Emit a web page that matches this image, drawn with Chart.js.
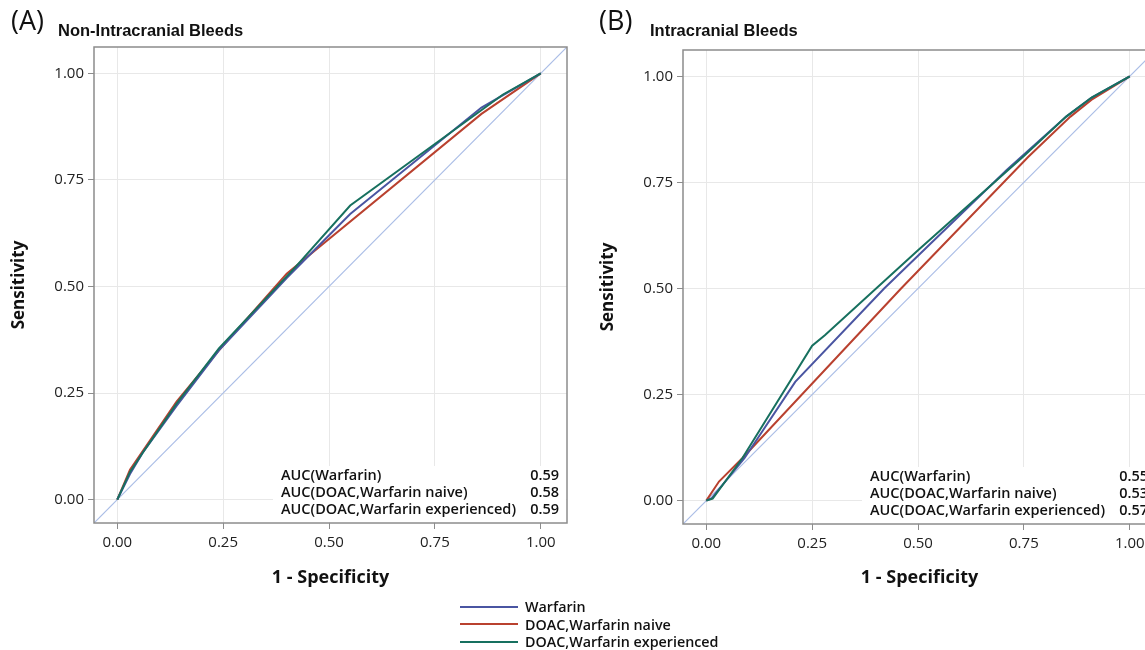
<!DOCTYPE html>
<html>
<head>
  <title>ROC curves - bleeds</title>
  <script src="https://cdn.jsdelivr.net/npm/chart.js"></script>
  <style>
    body { margin: 0; width: 1145px; height: 650px; overflow: hidden; background: #fff; position: relative; font-family: "Open Sans", sans-serif; }
    canvas { position: absolute; top: 0; }
    #rocA { left: 0; }
    #rocB { left: 589px; }
    .tag { position: absolute; top: 1px; font-size: 27px; color: #111; }
    .head { position: absolute; top: 21px; font-family: "Liberation Sans", Arial, sans-serif; font-weight: bold; font-size: 16.5px; color: #111; }
    #legend { position: absolute; left: 460px; top: 598px; font-size: 14.3px; font-weight: 600; color: #111; }
    .row { height: 17.5px; display: flex; align-items: center; }
    .swatch { width: 58px; height: 2px; margin-right: 7px; }
  </style>
</head>
<body>
  <canvas id="rocA" width="585" height="600"></canvas>
  <canvas id="rocB" width="585" height="600"></canvas>
  <div class="tag" style="left:11px">(A)</div>
  <div class="head" style="left:58px">Non-Intracranial Bleeds</div>
  <div class="tag" style="left:599px">(B)</div>
  <div class="head" style="left:650px">Intracranial Bleeds</div>
  <div id="legend"></div>
  <script>
    const TICKS = [0, 0.25, 0.5, 0.75, 1];
    const DIAG = [-0.06, 1.07];
    const SERIES = ['Warfarin', 'DOAC,Warfarin naive', 'DOAC,Warfarin experienced'];
    const COLORS = ['#4a55a2', '#b9412f', '#17705f'];
    const AUC_LABELS = ['AUC(Warfarin)', 'AUC(DOAC,Warfarin naive)', 'AUC(DOAC,Warfarin experienced)'];

    // (A) Non-Intracranial Bleeds
    const A_WARF_X = [0, 0.03, 0.06, 0.14, 0.24, 0.40, 0.55, 0.86, 1];
    const A_WARF_Y = [0, 0.06, 0.11, 0.22, 0.35, 0.52, 0.67, 0.92, 1];
    const A_NAIVE_X = [0, 0.03, 0.14, 0.24, 0.40, 0.86, 1];
    const A_NAIVE_Y = [0, 0.07, 0.23, 0.35, 0.53, 0.905, 1];
    const A_EXP_X = [0, 0.03, 0.06, 0.14, 0.24, 0.42, 0.55, 0.91, 1];
    const A_EXP_Y = [0, 0.065, 0.11, 0.225, 0.355, 0.545, 0.69, 0.95, 1];
    const A_AUC = [0.59, 0.58, 0.59];

    // (B) Intracranial Bleeds
    const B_WARF_X = [0, 0.012, 0.09, 0.21, 0.42, 0.71, 0.85, 0.91, 1];
    const B_WARF_Y = [0, 0.005, 0.10, 0.28, 0.50, 0.78, 0.905, 0.95, 1];
    const B_NAIVE_X = [0, 0.03, 0.085, 0.46, 0.76, 0.86, 0.91, 1];
    const B_NAIVE_Y = [0, 0.045, 0.10, 0.50, 0.81, 0.905, 0.945, 1];
    const B_EXP_X = [0, 0.015, 0.085, 0.25, 0.28, 0.50, 0.75, 0.85, 0.91, 1];
    const B_EXP_Y = [0, 0.005, 0.10, 0.365, 0.39, 0.59, 0.812, 0.905, 0.95, 1];
    const B_AUC = [0.55, 0.53, 0.57];

    const zip = (xs, ys) => xs.map((x, i) => ({ x: x, y: ys[i] }));

    // white AUC table in the lower right corner, plus the full frame
    const aucBox = {
      id: 'aucBox',
      afterDatasetsDraw(chart, args, opts) {
        const ctx = chart.ctx, a = chart.chartArea;
        ctx.save();
        ctx.fillStyle = '#fff';
        ctx.fillRect(a.right - 294, a.bottom - 57, 293, 56);
        ctx.font = '600 14.5px "Open Sans"';
        ctx.fillStyle = '#111';
        ctx.textBaseline = 'middle';
        AUC_LABELS.forEach((lab, i) => {
          const y = a.bottom - 47 + i * 17;
          ctx.textAlign = 'left';
          ctx.fillText(lab, a.right - 286, y);
          ctx.textAlign = 'right';
          ctx.fillText(opts.values[i].toFixed(2), a.right - 8, y);
        });
        ctx.strokeStyle = '#8c8c8c';
        ctx.lineWidth = 1.5;
        ctx.strokeRect(a.left, a.top, a.right - a.left, a.bottom - a.top);
        ctx.restore();
      }
    };

    function axis(title, isX, size) {
      return {
        type: 'linear', min: -0.055, max: 1.062,
        afterBuildTicks: s => { s.ticks = TICKS.map(v => ({ value: v })); },
        afterFit: s => { if (isX) s.height = size; else s.width = size; },
        ticks: { callback: v => v.toFixed(2), font: { family: 'Open Sans', size: 15 }, color: '#222', padding: isX ? 5 : 4, maxRotation: 0, autoSkip: false },
        grid: { color: '#e8e8e8', tickColor: '#8c8c8c', tickLength: 6 },
        border: { display: false },
        title: {
          display: true, text: title, color: '#111',
          font: { family: 'Open Sans', size: isX ? 18 : 17, weight: 'bold' },
          padding: isX ? { top: 0, bottom: 11 } : { top: 9, bottom: 0 }
        }
      };
    }

    function makeChart(id, curves, auc, padTop, xHeight) {
      const datasets = curves.map((pts, i) => ({
        label: SERIES[i], data: pts, showLine: true, borderColor: COLORS[i],
        borderWidth: 2, pointRadius: 0, fill: false, tension: 0, order: [1, 2, 0][i]
      }));
      datasets.push({
        label: 'reference', data: zip(DIAG, DIAG), showLine: true, borderColor: '#aabde6',
        borderWidth: 1.2, pointRadius: 0, fill: false, order: 3
      });
      return new Chart(document.getElementById(id), {
        type: 'scatter',
        data: { datasets },
        options: {
          responsive: false, animation: false,
          layout: { padding: { top: padTop, right: 18, left: 0, bottom: 0 } },
          plugins: { legend: { display: false }, tooltip: { enabled: false }, aucBox: { values: auc } },
          scales: { x: axis('1 - Specificity', true, xHeight), y: axis('Sensitivity', false, 94) }
        },
        plugins: [aucBox]
      });
    }

    makeChart('rocA', [zip(A_WARF_X, A_WARF_Y), zip(A_NAIVE_X, A_NAIVE_Y), zip(A_EXP_X, A_EXP_Y)], A_AUC, 47, 77);
    makeChart('rocB', [zip(B_WARF_X, B_WARF_Y), zip(B_NAIVE_X, B_NAIVE_Y), zip(B_EXP_X, B_EXP_Y)], B_AUC, 50, 76);

    // shared legend under the panels
    document.getElementById('legend').innerHTML = SERIES.map((s, i) =>
      `<div class="row"><span class="swatch" style="background:${COLORS[i]}"></span>${s}</div>`).join('');
  </script>
</body>
</html>
